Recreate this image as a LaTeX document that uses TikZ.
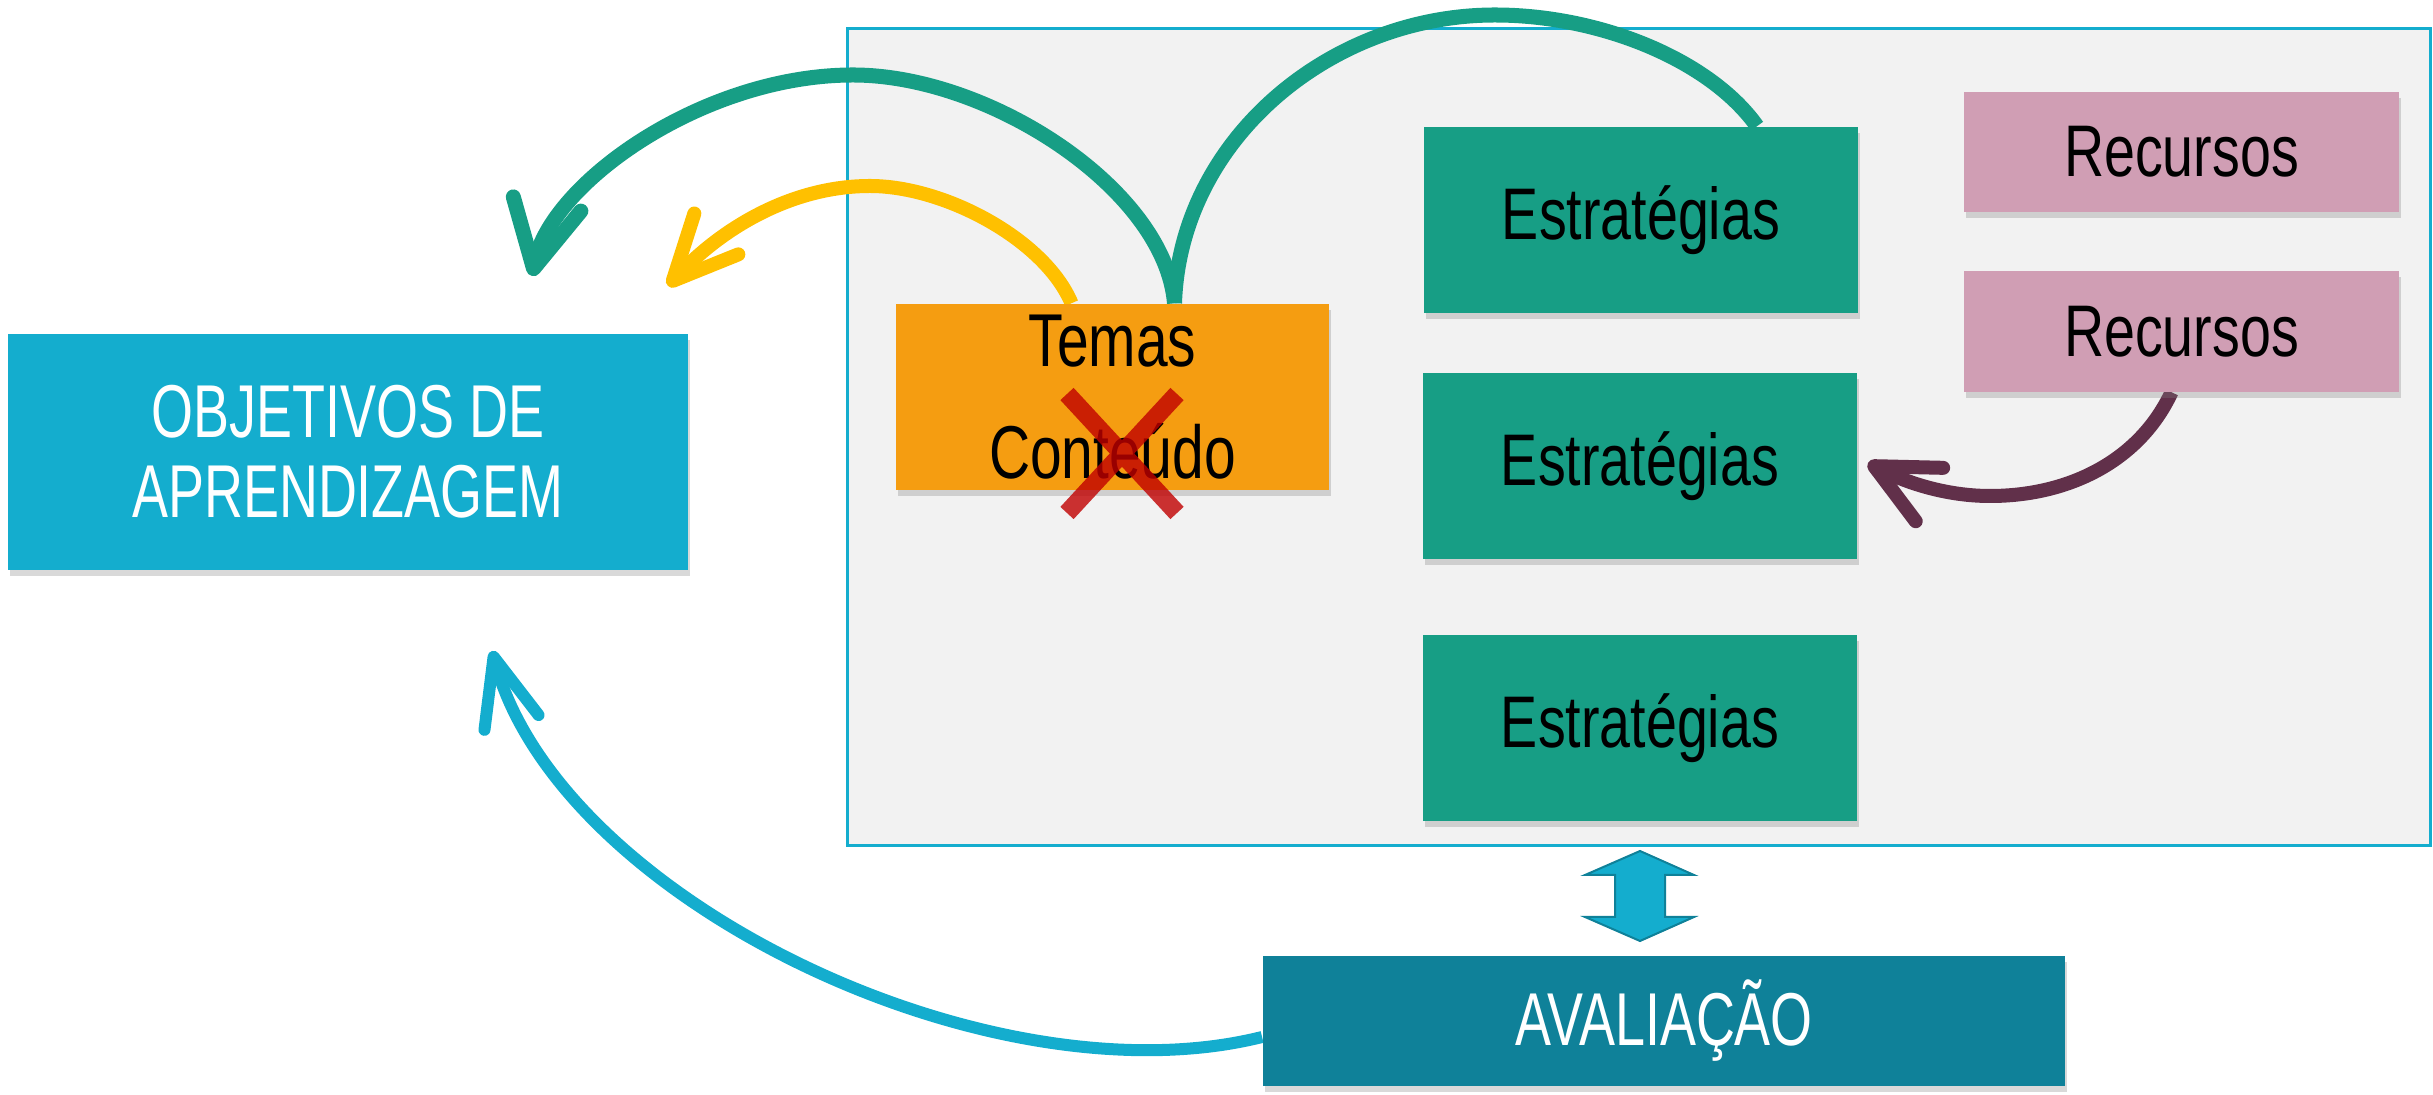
\documentclass[tikz,border=0pt]{standalone}
\usepackage{fontspec}
\setmainfont{Liberation Sans}
\newfontfamily\condfont{Liberation Sans}[FakeStretch=0.76]
\newfontfamily\thinfont{Liberation Sans}[FakeStretch=0.72]
\usetikzlibrary{arrows.meta,shadows,calc}
\definecolor{panelgray}{HTML}{F2F2F2}
\definecolor{objblue}{HTML}{14ADCE}
\definecolor{temaorange}{HTML}{F59D11}
\definecolor{estteal}{HTML}{179E85}
\definecolor{recpink}{HTML}{D09EB4}
\definecolor{avteal}{HTML}{0F8199}
\definecolor{plum}{HTML}{61304A}
\definecolor{gold}{HTML}{FFC000}
\definecolor{xred}{HTML}{C00000}
\pgfdeclarelayer{bg}
\pgfdeclarelayer{conn}
\pgfsetlayers{bg,conn,main}
\begin{document}
\begin{tikzpicture}[x=0.01cm,y=-0.01cm,
  box/.style={rectangle, inner sep=0pt, align=center,
    drop shadow={shadow xshift=0.02cm, shadow yshift=-0.06cm, opacity=0.3}},
  condtext/.style={font=\condfont\fontsize{20.8}{25}\selectfont, text=black},
  whitetext/.style={font=\thinfont\fontsize{21.3}{22.8}\selectfont, text=white},
  estbox/.style={box, condtext, fill=estteal, minimum width=4.34cm, minimum height=1.86cm},
  recbox/.style={box, condtext, fill=recpink, minimum width=4.35cm, minimum height=1.2cm},
  conn/.style={line width=0.15cm, line cap=butt},
  xstroke/.style={draw=xred, draw opacity=0.8, line width=0.18cm}
]
\useasboundingbox (0,0) rectangle (2433,1095);

\begin{pgfonlayer}{bg}
  \node[draw=objblue, line width=0.03cm, fill=panelgray, minimum width=15.82cm, minimum height=8.17cm, inner sep=0pt] (panel) at (1639,437) {};
\end{pgfonlayer}

\node[box, whitetext, fill=objblue, minimum width=6.8cm, minimum height=2.36cm] (obj) at (348,452) {OBJETIVOS DE\\APRENDIZAGEM};
\node[box, font=\condfont\fontsize{21.3}{31.9}\selectfont, fill=temaorange, minimum width=4.33cm, minimum height=1.86cm] (temas) at (1112.5,397) {Temas\\Conteúdo};
\node[estbox] (e1) at (1641,220) {Estratégias};
\node[estbox] (e2) at (1640,466) {Estratégias};
\node[estbox] (e3) at (1640,728) {Estratégias};
\node[recbox] (r1) at (2181.5,152) {Recursos};
\node[recbox] (r2) at (2181.5,331.5) {Recursos};
\node[box, whitetext, fill=avteal, minimum width=8.02cm, minimum height=1.3cm] (av) at (1664,1021) {AVALIAÇÃO};

\coordinate (gA) at ($(temas.north)+(62,0)$);
\coordinate (yA) at ($(temas.north)+(-41,0)$);
\coordinate (e1end) at ($(e1.north)+(116,0)$);
\coordinate (pA) at ($(r2.south)+(-10,0)$);
\coordinate (bA) at ($(av.west)+(0,16)$);
\coordinate (tipG) at (532,276);
\coordinate (tipY) at (668,286);
\coordinate (tipP) at (1868,463);
\coordinate (tipB) at (492,651);

\begin{pgfonlayer}{conn}
  \draw[conn, estteal, -{Straight Barb[length=0.66cm, width=0.69cm, round]}]
    (gA) .. controls (1165,190) and (990,75) .. (853,75)
         .. controls (703,75) and (551.5,183) .. (tipG);
  \draw[conn, estteal]
    (gA) .. controls (1180,140) and (1330,15) .. (1495,15)
         .. controls (1600,15) and (1710,60) .. (e1end);
  \draw[conn, gold, line width=0.14cm, -{Straight Barb[length=0.64cm, width=0.6cm, round]}]
    (yA) .. controls (1045,240) and (945,186) .. (870,186)
         .. controls (790,186) and (720,230) .. (tipY);
  \draw[conn, plum, line width=0.14cm, -{Straight Barb[length=0.62cm, width=0.6cm, round]}]
    (pA) .. controls (2140,460) and (2070,496) .. (1990,496)
         .. controls (1945,496) and (1905,482) .. (tipP);
  \draw[conn, objblue, line width=0.12cm, -{Straight Barb[length=0.68cm, width=0.56cm, round]}]
    (bA) .. controls (990,1105) and (560,900) .. (tipB);
\end{pgfonlayer}

\draw[xstroke] (1067,394) -- (1177,513) (1177,394) -- (1067,513);

\coordinate (dc) at (1640,896);
\draw[fill=objblue, draw=avteal, line width=0.02cm, line join=miter]
  ($(dc)+(0,-45)$) -- ($(dc)+(54,-21)$) -- ($(dc)+(25,-21)$) -- ($(dc)+(25,21)$)
  -- ($(dc)+(54,21)$) -- ($(dc)+(0,45)$) -- ($(dc)+(-55,21)$) -- ($(dc)+(-25,21)$)
  -- ($(dc)+(-25,-21)$) -- ($(dc)+(-55,-21)$) -- cycle;
\end{tikzpicture}
\end{document}
